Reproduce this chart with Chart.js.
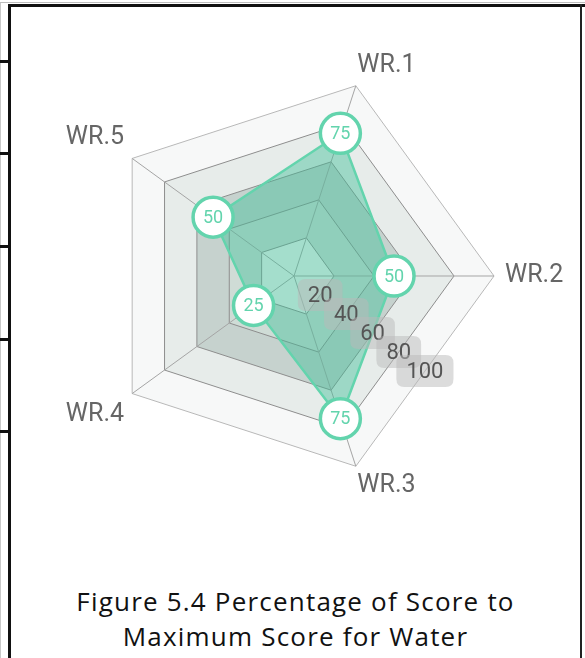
<!DOCTYPE html>
<html>
<head>
<meta charset="utf-8">
<script src="https://cdn.jsdelivr.net/npm/chart.js@4.4.0/dist/chart.umd.min.js"></script>
<style>
  html, body { margin: 0; padding: 0; background: #fff; }
  body { width: 585px; height: 658px; position: relative; overflow: hidden; }
  .ln { position: absolute; background: #111; z-index: 2; }
  #wrap { position: absolute; left: 0; top: 0; width: 600px; height: 560px; z-index: 1; }
  #cap { position: absolute; left: 11px; width: 569px; top: 584px; text-align: center; z-index: 2;
         font-family: "Open Sans", sans-serif; font-size: 26px; letter-spacing: 1.2px; line-height: 35px; color: #111; }
</style>
</head>
<body>
<div id="wrap"><canvas id="c" width="600" height="560"></canvas></div>

<div class="ln" style="left:0;top:2px;width:585px;height:1px;background:#bdbdbd"></div>
<div class="ln" style="left:0;top:3px;width:1px;height:655px;background:#c8c8c8"></div>
<div class="ln" style="left:8px;top:4px;width:577px;height:3px"></div>
<div class="ln" style="left:8px;top:4px;width:3px;height:654px"></div>
<div class="ln" style="left:580px;top:4px;width:2px;height:654px;background:#222"></div>
<div class="ln" style="left:0;top:60px;width:9px;height:3px"></div>
<div class="ln" style="left:0;top:152px;width:9px;height:3px"></div>
<div class="ln" style="left:0;top:245px;width:9px;height:3px"></div>
<div class="ln" style="left:0;top:338px;width:9px;height:3px"></div>
<div class="ln" style="left:0;top:430px;width:9px;height:3px"></div>

<div id="cap">Figure 5.4 Percentage of Score to<br>Maximum Score for Water</div>

<script>
// ---- data ----
const categories = ['WR.1', 'WR.2', 'WR.3', 'WR.4', 'WR.5'];
const scoreValues = [75, 50, 75, 25, 50];
const tickValues = [20, 40, 60, 80, 100];
const tickLabels = ['20', '40', '60', '80', '100'];

// ---- styling ----
const TEAL = '#63d4ad';
const BAND_FILLS = ['#f3f7f5', '#cfdcd6', '#c6d2ce', '#e7ecea', '#f7f8f8']; // inner -> outer
const LABEL_PAD = [5, 11, 5, 10, 10];

const ringBands = {
  id: 'ringBands',
  beforeDraw(chart) {
    const s = chart.scales.r, ctx = chart.ctx, n = chart.data.labels.length;
    ctx.save();
    for (let k = tickValues.length - 1; k >= 0; k--) {
      ctx.beginPath();
      for (let i = 0; i < n; i++) {
        const p = s.getPointPositionForValue(i, tickValues[k]);
        if (i === 0) ctx.moveTo(p.x, p.y); else ctx.lineTo(p.x, p.y);
      }
      ctx.closePath();
      ctx.fillStyle = BAND_FILLS[k];
      ctx.fill();
    }
    ctx.restore();
  }
};

function rr(ctx, x, y, w, h, r) {
  ctx.beginPath();
  ctx.moveTo(x + r, y);
  ctx.lineTo(x + w - r, y); ctx.quadraticCurveTo(x + w, y, x + w, y + r);
  ctx.lineTo(x + w, y + h - r); ctx.quadraticCurveTo(x + w, y + h, x + w - r, y + h);
  ctx.lineTo(x + r, y + h); ctx.quadraticCurveTo(x, y + h, x, y + h - r);
  ctx.lineTo(x, y + r); ctx.quadraticCurveTo(x, y, x + r, y);
  ctx.closePath();
}

const labelsOverlay = {
  id: 'labelsOverlay',
  afterDatasetsDraw(chart) {
    const s = chart.scales.r, ctx = chart.ctx;
    ctx.save();
    ctx.textAlign = 'center';
    ctx.textBaseline = 'middle';
    // tick labels along the middle of the WR.2 - WR.3 edge
    ctx.font = '22px Roboto';
    tickValues.forEach((v, k) => {
      const a = s.getPointPositionForValue(1, v), b = s.getPointPositionForValue(2, v);
      const x = (a.x + b.x) / 2, y = (a.y + b.y) / 2;
      const w = ctx.measureText(tickLabels[k]).width;
      rr(ctx, x - w / 2 - 10, y - 16, w + 20, 32, 8);
      ctx.fillStyle = 'rgba(185,185,185,0.5)';
      ctx.fill();
      ctx.fillStyle = '#555';
      ctx.fillText(tickLabels[k], x, y + 1);
    });
    // value labels inside the points
    ctx.font = '18px Roboto';
    ctx.fillStyle = TEAL;
    const meta = chart.getDatasetMeta(0);
    meta.data.forEach((pt, i) => {
      ctx.fillText(String(scoreValues[i]), pt.x, pt.y + 1);
    });
    ctx.restore();
  }
};

new Chart(document.getElementById('c'), {
  type: 'radar',
  data: {
    labels: categories,
    datasets: [{
      data: scoreValues,
      backgroundColor: 'rgba(60,190,150,0.43)',
      borderColor: TEAL,
      borderWidth: 2.5,
      pointRadius: 20,
      pointHoverRadius: 20,
      pointBorderWidth: 3.5,
      pointBackgroundColor: '#fff',
      pointBorderColor: TEAL
    }]
  },
  options: {
    responsive: false,
    devicePixelRatio: 1,
    animation: false,
    layout: { padding: { left: 2, right: 12, top: 51, bottom: 59 } },
    plugins: { legend: { display: false }, tooltip: { enabled: false } },
    scales: {
      r: {
        min: 0, max: 100, startAngle: 18,
        ticks: { display: false, stepSize: 20 },
        grid: { color: (c) => (c.tick && c.tick.value === 100 ? '#b8b8b8' : '#8e8e8e'), lineWidth: 1 },
        angleLines: { color: '#a5a5a5', lineWidth: 1 },
        pointLabels: {
          font: { family: 'Roboto', size: 25 },
          color: '#666',
          padding: (c) => LABEL_PAD[c.index]
        }
      }
    }
  },
  plugins: [ringBands, labelsOverlay]
});
</script>
</body>
</html>
